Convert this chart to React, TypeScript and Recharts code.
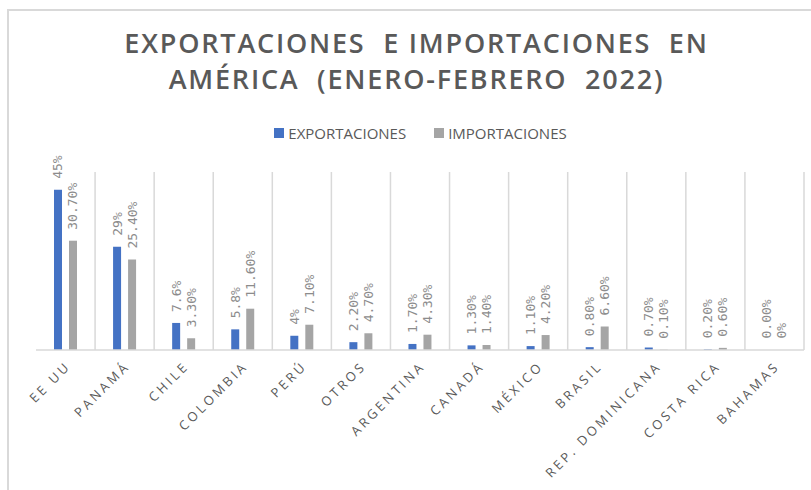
import { BarChart, Bar, XAxis, YAxis, CartesianGrid, Legend, LabelList, Cell } from "recharts"

const paises = [
  "EE UU",
  "PANAMÁ",
  "CHILE",
  "COLOMBIA",
  "PERÚ",
  "OTROS",
  "ARGENTINA",
  "CANADÁ",
  "MÉXICO",
  "BRASIL",
  "REP. DOMINICANA",
  "COSTA RICA",
  "BAHAMAS",
]
const exportaciones = [45, 29, 7.6, 5.8, 4, 2.2, 1.7, 1.3, 1.1, 0.8, 0.7, 0.2, 0]
const importaciones = [30.7, 25.4, 3.3, 11.6, 7.1, 4.7, 4.3, 1.4, 4.2, 6.6, 0.1, 0.6, 0]
const etiquetasExp = ["45%", "29%", "7.6%", "5.8%", "4%", "2.20%", "1.70%", "1.30%", "1.10%", "0.80%", "0.70%", "0.20%", "0.00%"]
const etiquetasImp = ["30.70%", "25.40%", "3.30%", "11.60%", "7.10%", "4.70%", "4.30%", "1.40%", "4.20%", "6.60%", "0.10%", "0.60%", "0%"]

const data = paises.map((name, i) => ({
  name,
  exp: exportaciones[i],
  imp: importaciones[i],
  expLabel: etiquetasExp[i],
  impLabel: etiquetasImp[i],
}))

const GRID = "#d9d9d9"
const AZUL = "#4472c4"
const GRIS = "#a5a5a5"

// rotated label above each bar
function BarLabel(props: any) {
  const { x, y, width, value } = props
  const cx = x + width / 2
  const cy = y - 11
  return (
    <text
      x={cx}
      y={cy}
      transform={`rotate(-90 ${cx} ${cy})`}
      textAnchor="start"
      dominantBaseline="central"
      fill="#8c8c8c"
      fontSize={13}
      fontFamily="'DejaVu Sans Mono', monospace"
    >
      {value}
    </text>
  )
}

function PaisTick(props: any) {
  const { x, y, payload } = props
  return (
    <g transform={`translate(${x + 6},${y + 9})`}>
      <text
        transform="rotate(-45)"
        textAnchor="end"
        fill="#595959"
        fontSize={13}
        letterSpacing={3}
        fontFamily="'Open Sans', sans-serif"
      >
        {payload.value}
      </text>
    </g>
  )
}

function Leyenda(props: any) {
  const { payload } = props
  return (
    <div style={{ display: "flex", justifyContent: "center", gap: 28, paddingLeft: 30, fontFamily: "'Liberation Sans Narrow', 'Open Sans', sans-serif", fontSize: 15, color: "#595959" }}>
      {payload.map((p: any) => (
        <div key={p.value} style={{ display: "flex", alignItems: "center", gap: 4 }}>
          <span style={{ width: 10, height: 10, background: p.color, display: "inline-block" }} />
          <span>{p.value}</span>
        </div>
      ))}
    </div>
  )
}

// zero bars still need their labels, so give them a hairline that is not painted
const zeroSize = (v: number) => (v === 0 ? 0.5 : 0)

export default function App() {
  return (
    <div style={{ position: "absolute", left: 0, top: 0, width: 811, height: 490, background: "#fff", overflow: "hidden" }}>
      <div
        style={{
          position: "absolute",
          left: 7,
          top: 9,
          width: 830,
          height: 500,
          borderLeft: `2px solid ${GRID}`,
          borderTop: `2px solid ${GRID}`,
        }}
      />
      <div
        style={{
          position: "absolute",
          left: 0,
          top: 25,
          width: 833,
          textAlign: "center",
          fontFamily: "'Open Sans', sans-serif",
          fontWeight: 600,
          fontSize: 27,
          lineHeight: "36px",
          letterSpacing: 1.8,
          color: "#595959",
          whiteSpace: "pre",
        }}
      >
        {"EXPORTACIONES  E IMPORTACIONES  EN\nAMÉRICA  (ENERO-FEBRERO  2022)"}
      </div>
      <BarChart
        width={811}
        height={490}
        data={data}
        margin={{ top: 154, right: 7, bottom: 40, left: 36 }}
        barCategoryGap="30%"
        barGap={7}
      >
        <CartesianGrid
          horizontal={false}
          stroke={GRID}
          strokeWidth={1.5}
          verticalCoordinatesGenerator={({ offset }: any) =>
            paises.map((_, i) => offset.left + ((i + 1) * offset.width) / paises.length)
          }
        />
        <XAxis
          dataKey="name"
          interval={0}
          height={100}
          tickLine={false}
          axisLine={{ stroke: GRID, strokeWidth: 1.5 }}
          tick={<PaisTick />}
        />
        <YAxis hide domain={[0, 50]} />
        <Legend
          verticalAlign="top"
          height={18}
          content={<Leyenda />}
          wrapperStyle={{ position: "absolute", top: 123, left: 0, width: 811 }}
        />
        <Bar dataKey="exp" name="EXPORTACIONES" fill={AZUL} barSize={8} minPointSize={zeroSize} isAnimationActive={false}>
          {exportaciones.map((v, i) => (
            <Cell key={i} fill={v === 0 ? "transparent" : AZUL} />
          ))}
          <LabelList dataKey="expLabel" content={<BarLabel />} />
        </Bar>
        <Bar dataKey="imp" name="IMPORTACIONES" fill={GRIS} barSize={8} minPointSize={zeroSize} isAnimationActive={false}>
          {importaciones.map((v, i) => (
            <Cell key={i} fill={v === 0 ? "transparent" : GRIS} />
          ))}
          <LabelList dataKey="impLabel" content={<BarLabel />} />
        </Bar>
      </BarChart>
    </div>
  )
}
